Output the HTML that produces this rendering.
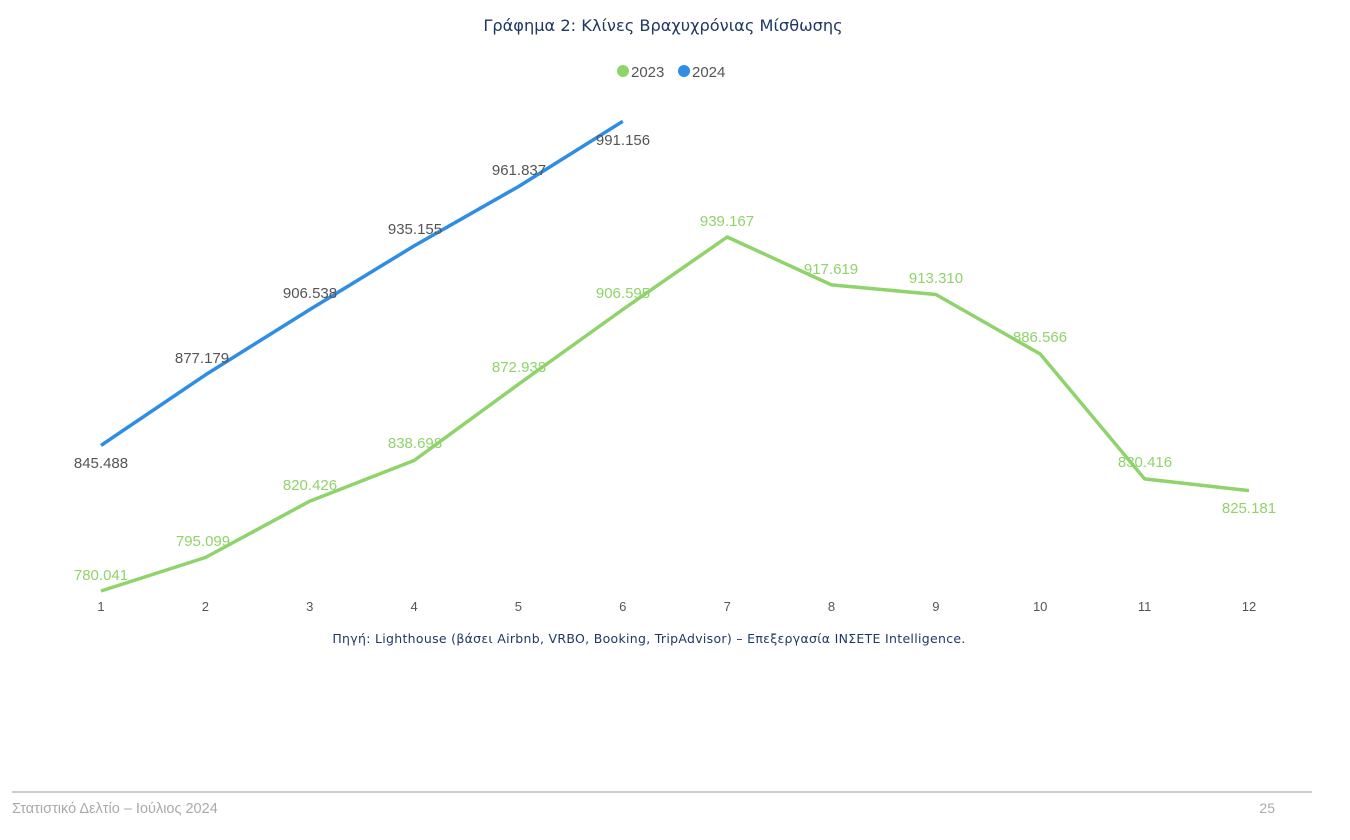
<!DOCTYPE html>
<html><head><meta charset="utf-8"><style>
html,body{margin:0;padding:0;background:#fff;width:1350px;height:840px;overflow:hidden}
text{font-family:"Liberation Sans","DejaVu Sans",sans-serif}
</style></head><body>
<svg width="1350" height="840" viewBox="0 0 1350 840" xmlns="http://www.w3.org/2000/svg">
<text x="663" y="31" text-anchor="middle" font-size="16.2" fill="#1f3864" style="font-family:'DejaVu Sans',sans-serif">Γράφημα 2: Κλίνες Βραχυχρόνιας Μίσθωσης</text>
<circle cx="623" cy="71" r="6" fill="#8fd36b"/>
<text x="631" y="77" font-size="15" fill="#555">2023</text>
<circle cx="684" cy="71" r="6" fill="#2f8de4"/>
<text x="692" y="77" font-size="15" fill="#555">2024</text>
<polyline fill="none" stroke="#8fd36b" stroke-width="3.5" stroke-linejoin="round" points="101,591 205.4,557.5 309.7,501.2 414.1,460.5 518.4,384.3 622.8,309.5 727.2,237 831.5,284.9 935.9,294.5 1040.2,354 1144.6,478.9 1249,490.6"/>
<polyline fill="none" stroke="#2f8de4" stroke-width="3.5" stroke-linejoin="round" points="101,445.4 205.4,374.9 309.7,309.6 414.1,245.9 518.4,186.6 622.8,121.3"/>
<g font-size="15" fill="#8fd36b" text-anchor="middle">
<text x="101" y="580">780.041</text>
<text x="203" y="546">795.099</text>
<text x="310" y="490">820.426</text>
<text x="415" y="448">838.698</text>
<text x="519" y="372">872.938</text>
<text x="623" y="298">906.595</text>
<text x="727" y="226">939.167</text>
<text x="831" y="274">917.619</text>
<text x="936" y="283">913.310</text>
<text x="1040" y="342">886.566</text>
<text x="1145" y="467">830.416</text>
<text x="1249" y="513">825.181</text>
</g>
<g font-size="15" fill="#555" text-anchor="middle">
<text x="101" y="468">845.488</text>
<text x="202" y="363">877.179</text>
<text x="310" y="298">906.538</text>
<text x="415" y="234">935.155</text>
<text x="519" y="175">961.837</text>
<text x="623" y="145">991.156</text>
</g>
<g font-size="13" fill="#555" text-anchor="middle">
<text x="101" y="611">1</text><text x="205.4" y="611">2</text><text x="309.7" y="611">3</text><text x="414.1" y="611">4</text><text x="518.4" y="611">5</text><text x="622.8" y="611">6</text><text x="727.2" y="611">7</text><text x="831.5" y="611">8</text><text x="935.9" y="611">9</text><text x="1040.2" y="611">10</text><text x="1144.6" y="611">11</text><text x="1249" y="611">12</text>
</g>
<text x="649" y="643" text-anchor="middle" font-size="12.5" letter-spacing="0.3" fill="#1f3864" style="font-family:'DejaVu Sans',sans-serif">Πηγή: Lighthouse (βάσει Airbnb, VRBO, Booking, TripAdvisor) – Επεξεργασία ΙΝΣΕΤΕ Intelligence.</text>
<line x1="12" y1="792" x2="1312" y2="792" stroke="#bbb" stroke-width="1.5"/>
<text x="12" y="813" font-size="14.5" fill="#aaa">Στατιστικό Δελτίο – Ιούλιος 2024</text>
<text x="1275" y="813" text-anchor="end" font-size="14" fill="#aaa">25</text>
</svg>
</body></html>
